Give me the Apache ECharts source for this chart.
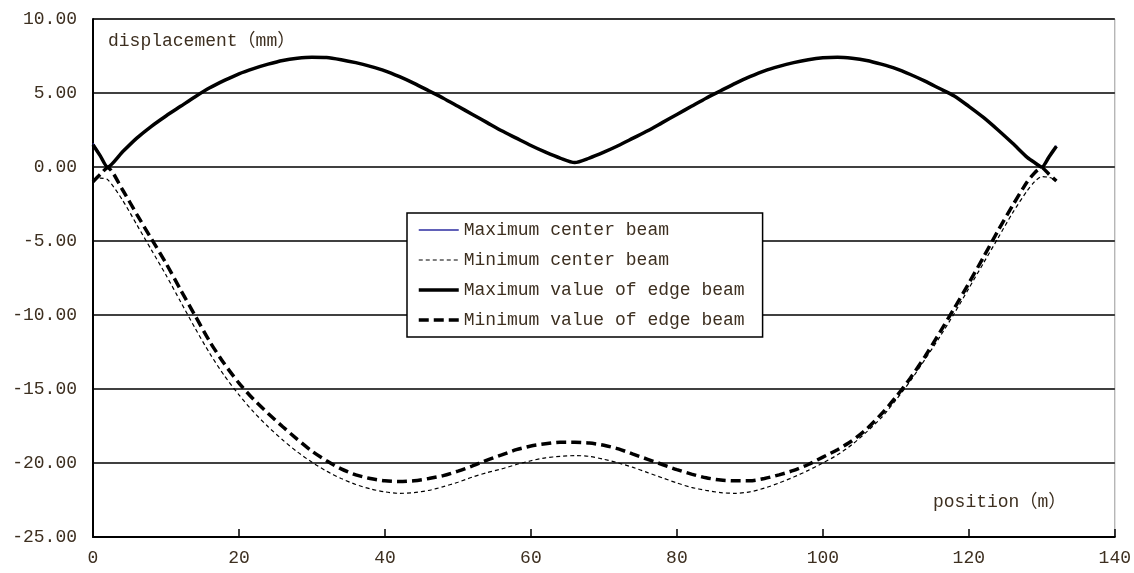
<!DOCTYPE html>
<html>
<head>
<meta charset="utf-8">
<script src="https://cdn.jsdelivr.net/npm/echarts@6/dist/echarts.min.js"></script>
<style>
html,body{margin:0;padding:0;background:#fff;}
#chart{width:1134px;height:573px;}
</style>
</head>
<body>
<div id="chart"></div>
<script>
const positions = [0,1,2,4,6,8,10,12,14,16,18,20,22,24,26,28,30,32,34,36,38,40,42,44,46,48,50,52,54,56,58,60,62,64,66,68,70,72,74,76,78,80,82,84,86,88,90,92,94,96,98,100,102,104,106,108,110,112,114,116,118,120,122,124,126,128,129,130,131,132];

const maxCenterBeam = [1.6,0.8,0.0,1.0,1.95,2.75,3.45,4.1,4.75,5.35,5.85,6.3,6.65,6.95,7.2,7.35,7.42,7.4,7.25,7.05,6.8,6.5,6.1,5.65,5.15,4.65,4.1,3.55,3.0,2.45,1.95,1.45,1.0,0.6,0.3,0.6,1.0,1.45,1.95,2.45,3.0,3.55,4.1,4.65,5.15,5.65,6.1,6.5,6.8,7.05,7.25,7.38,7.42,7.35,7.2,6.95,6.65,6.25,5.8,5.3,4.8,4.1,3.35,2.5,1.6,0.65,0.3,0.0,0.7,1.45];

const minCenterBeam = [-0.9,-0.75,-0.85,-2.2,-3.9,-5.6,-7.3,-9.1,-10.9,-12.6,-14.1,-15.4,-16.55,-17.55,-18.45,-19.25,-19.95,-20.55,-21.05,-21.45,-21.75,-21.95,-22.05,-22.0,-21.85,-21.6,-21.3,-20.95,-20.65,-20.4,-20.1,-19.85,-19.65,-19.55,-19.5,-19.55,-19.75,-20.0,-20.3,-20.65,-21.0,-21.35,-21.65,-21.85,-22.0,-22.05,-21.95,-21.7,-21.35,-20.95,-20.5,-20.0,-19.45,-18.75,-17.9,-16.95,-15.75,-14.45,-13.0,-11.5,-9.9,-8.2,-6.5,-4.8,-3.1,-1.6,-1.0,-0.65,-0.7,-0.9];

const maxEdgeBeam = [1.5,0.75,0.0,1.0,1.95,2.75,3.45,4.1,4.75,5.35,5.85,6.3,6.65,6.95,7.2,7.35,7.42,7.4,7.25,7.05,6.8,6.5,6.1,5.65,5.15,4.65,4.1,3.55,3.0,2.45,1.95,1.45,1.0,0.6,0.3,0.6,1.0,1.45,1.95,2.45,3.0,3.55,4.1,4.65,5.15,5.65,6.1,6.5,6.8,7.05,7.25,7.38,7.42,7.35,7.2,6.95,6.65,6.25,5.8,5.3,4.8,4.1,3.35,2.5,1.6,0.65,0.3,0.0,0.7,1.4];

const minEdgeBeam = [-1.0,-0.5,-0.05,-1.5,-3.2,-4.85,-6.5,-8.3,-10.05,-11.8,-13.3,-14.6,-15.7,-16.65,-17.55,-18.4,-19.2,-19.85,-20.4,-20.8,-21.05,-21.2,-21.25,-21.2,-21.05,-20.85,-20.55,-20.2,-19.8,-19.45,-19.1,-18.85,-18.7,-18.6,-18.6,-18.65,-18.8,-19.05,-19.4,-19.75,-20.1,-20.45,-20.75,-21.0,-21.15,-21.2,-21.2,-21.05,-20.8,-20.5,-20.1,-19.6,-19.1,-18.5,-17.7,-16.7,-15.55,-14.25,-12.8,-11.2,-9.55,-7.85,-6.1,-4.3,-2.6,-1.0,-0.4,-0.05,-0.5,-0.95];

const seriesNames = ['Maximum center beam','Minimum center beam','Maximum value of edge beam','Minimum value of edge beam'];
const xTicks = [0,20,40,60,80,100,120,140];
const yTicks = [10,5,0,-5,-10,-15,-20,-25];
const yAxisTitle = 'displacement（mm）';
const xAxisTitle = 'position（m）';

function pairs(vals){ return positions.map((p,i)=>[p, vals[i]]); }

const FONT = '"Liberation Mono", "DejaVu Sans Mono", "Noto Sans CJK SC", monospace';
const TXT = '#3d2f20';

const styles = [
  {color: '#2d2da0', width: 1.5, type: 'solid'},
  {color: '#000', width: 1.2, type: [4, 3]},
  {color: '#000', width: 3.5, type: 'solid'},
  {color: '#000', width: 3.5, type: [10, 5]}
];
const seriesValues = [maxCenterBeam, minCenterBeam, maxEdgeBeam, minEdgeBeam];

const chart = echarts.init(document.getElementById('chart'));
chart.setOption({
  animation: false,
  backgroundColor: '#fff',
  grid: {left: 93, right: 18, top: 19, bottom: 36, show: true, borderColor: '#999', borderWidth: 1, backgroundColor: 'transparent'},
  xAxis: {
    type: 'value', min: xTicks[0], max: xTicks[xTicks.length-1], interval: 20,
    axisLine: {onZero: false, lineStyle: {color: '#000', width: 2}},
    axisTick: {show: true, inside: true, length: 8, lineStyle: {color: '#000', width: 1.5}},
    axisLabel: {color: TXT, fontFamily: FONT, fontSize: 18, margin: 12},
    splitLine: {show: false}
  },
  yAxis: {
    type: 'value', min: yTicks[yTicks.length-1], max: yTicks[0], interval: 5,
    axisLine: {show: true, lineStyle: {color: '#000', width: 2}},
    axisTick: {show: false},
    axisLabel: {color: TXT, fontFamily: FONT, fontSize: 18, margin: 16, formatter: v => v.toFixed(2)},
    splitLine: {show: true, lineStyle: {color: '#000', width: 1.5}}
  },
  legend: {
    orient: 'vertical', left: 407, top: 213,
    padding: [8, 18, 8, 10],
    itemWidth: 40, itemHeight: 17, itemGap: 12,
    backgroundColor: '#fff', borderColor: '#000', borderWidth: 1.5,
    itemStyle: {opacity: 0},
    textStyle: {color: TXT, fontFamily: FONT, fontSize: 18},
    data: seriesNames.map((n, i) => ({name: n, lineStyle: {color: styles[i].color, width: styles[i].width, type: styles[i].type}}))
  },
  graphic: [
    {type: 'text', left: 108, top: 32, style: {text: yAxisTitle, font: '18px ' + FONT, fill: TXT}},
    {type: 'text', left: 933, top: 493, style: {text: xAxisTitle, font: '18px ' + FONT, fill: TXT}}
  ],
  series: seriesNames.map((n, i) => ({
    name: n, type: 'line', data: pairs(seriesValues[i]), symbol: 'none', smooth: 0.25,
    lineStyle: {color: styles[i].color, width: styles[i].width, type: styles[i].type},
    itemStyle: {color: styles[i].color}, z: 2 + i
  }))
});
</script>
</body>
</html>
